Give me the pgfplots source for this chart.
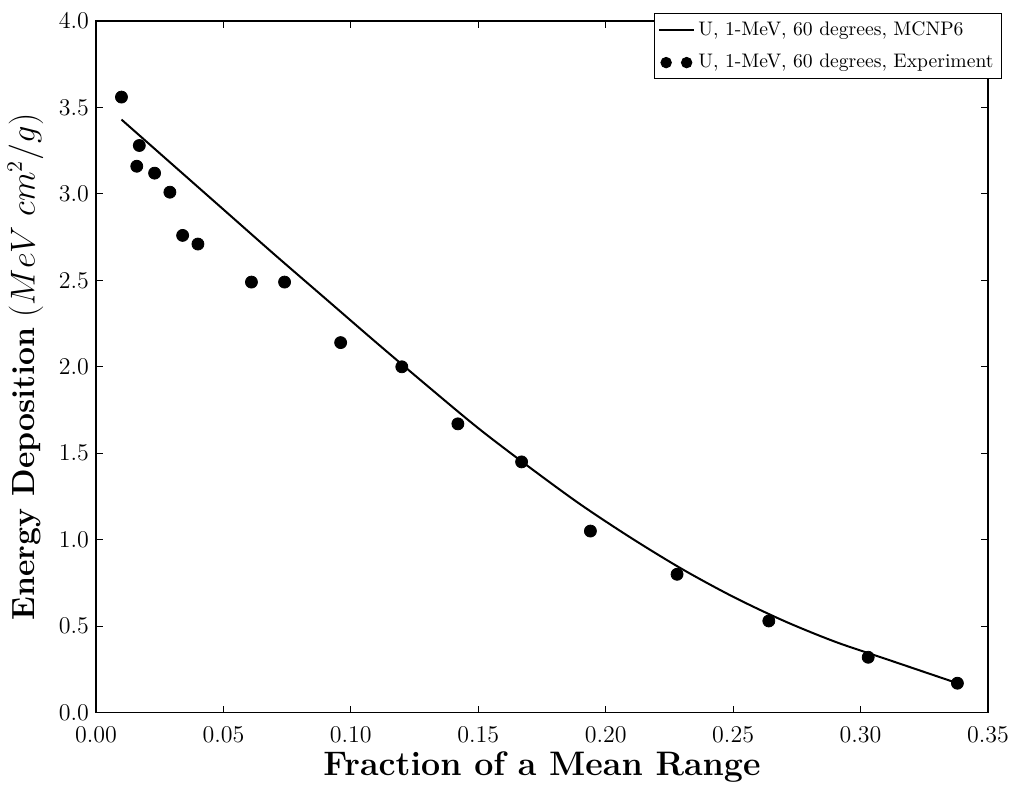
\documentclass[border=0pt]{standalone}
\usepackage{pgfplots}
\pgfplotsset{compat=1.18}
\begin{document}
\begin{tikzpicture}
\begin{axis}[
  scale only axis,
  width=446pt, height=345.8pt,
  xmin=0, xmax=0.35, ymin=0, ymax=4,
  xtick={0,0.05,0.10,0.15,0.20,0.25,0.30,0.35},
  ytick={0,0.5,1.0,1.5,2.0,2.5,3.0,3.5,4.0},
  tick align=inside,
  major tick length=3.5pt,
  axis line style={line width=0.8pt},
  every tick/.style={black, line width=0.5pt},
  xticklabel style={/pgf/number format/fixed, /pgf/number format/fixed zerofill, /pgf/number format/precision=2, font=\fontsize{11.5}{13}\selectfont, yshift=-3.5pt},
  yticklabel style={/pgf/number format/fixed, /pgf/number format/fixed zerofill, /pgf/number format/precision=1, font=\fontsize{11.5}{13}\selectfont},
  scaled x ticks=false,
  xlabel={\textbf{Fraction of a Mean Range}},
  ylabel={\textbf{Energy Deposition} $(MeV\ cm^2/g)$},
  xlabel style={font=\fontsize{17}{20}\selectfont, yshift=2pt},
  ylabel style={font=\fontsize{16}{20}\selectfont, yshift=1pt},
  clip=false,
  legend style={at={(1.0157,1.0116)}, anchor=north east, draw=black, line width=0.5pt,
    font=\fontsize{9.8}{11.5}\selectfont, row sep=4pt, inner sep=2pt},
  legend cell align=left,
]
\addplot[black, line width=1pt, smooth, mark=none] coordinates {
(0.010,3.430) (0.030,3.170) (0.050,2.910) (0.070,2.650) (0.090,2.395)
(0.110,2.140) (0.130,1.890) (0.150,1.645) (0.170,1.420) (0.190,1.205)
(0.210,1.010) (0.230,0.830) (0.250,0.670) (0.270,0.530) (0.290,0.410)
(0.310,0.310) (0.338,0.170)
};
\addlegendentry{U, 1-MeV, 60 degrees, MCNP6}
\addplot[only marks, mark=*, mark size=3pt, black,
  legend image code/.code={\fill[black] (0.12cm,0) circle (2.6pt); \fill[black] (0.48cm,0) circle (2.6pt);}] coordinates {
(0.010,3.56) (0.017,3.28) (0.016,3.16) (0.023,3.12) (0.029,3.01)
(0.034,2.76) (0.040,2.71) (0.061,2.49) (0.074,2.49) (0.096,2.14)
(0.120,2.00) (0.142,1.67) (0.167,1.45) (0.194,1.05) (0.228,0.80)
(0.264,0.53) (0.303,0.32) (0.338,0.17)
};
\addlegendentry{U, 1-MeV, 60 degrees, Experiment}
\path (rel axis cs:-0.1076,-0.1074) rectangle (rel axis cs:1.0314,1.0304);
\end{axis}
\end{tikzpicture}
\end{document}
